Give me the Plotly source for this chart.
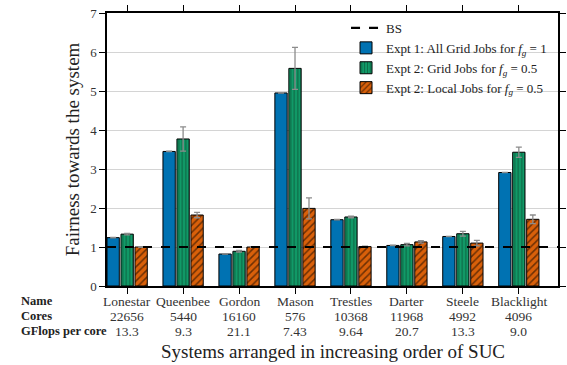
import plotly.graph_objects as go

# Systems, ordered by increasing SUC
systems = ["Lonestar", "Queenbee", "Gordon", "Mason", "Trestles", "Darter", "Steele", "Blacklight"]
cores = ["22656", "5440", "16160", "576", "10368", "11968", "4992", "4096"]
gflops = ["13.3", "9.3", "21.1", "7.43", "9.64", "20.7", "13.3", "9.0"]

# Fairness values and error bars
expt1_all = [1.24, 3.45, 0.82, 4.95, 1.70, 1.04, 1.27, 2.91]
expt1_err = [0.005, 0.005, 0.005, 0.005, 0.005, 0.005, 0.005, 0.005]
expt2_grid = [1.33, 3.77, 0.89, 5.58, 1.77, 1.06, 1.34, 3.43]
expt2_grid_err = [0.02, 0.31, 0.02, 0.54, 0.02, 0.03, 0.06, 0.13]
expt2_local = [1.00, 1.82, 1.00, 1.99, 1.01, 1.13, 1.10, 1.71]
expt2_local_err = [0.01, 0.07, 0.01, 0.27, 0.01, 0.03, 0.07, 0.11]
bs_level = 1.0

x_range = [-0.36, 7.7]
idx = list(range(len(systems)))

SERIF = "Liberation Serif, Times New Roman, serif"
ERR_COLOR = "#8c8c8c"
TXT = "#222"

def err(vals):
    return dict(type="data", array=vals, color=ERR_COLOR, thickness=1.3, width=3)

fig = go.Figure()

fig.add_trace(go.Bar(
    x=idx, y=expt1_all, error_y=err(expt1_err),
    name="Expt 1: All Grid Jobs for <i>f</i><sub><i>g</i></sub> = 1",
    marker=dict(color="#0072b2", line=dict(color="black", width=1)),
    legendrank=2,
))
fig.add_trace(go.Bar(
    x=idx, y=expt2_grid, error_y=err(expt2_grid_err),
    name="Expt 2: Grid Jobs for <i>f</i><sub><i>g</i></sub> = 0.5",
    marker=dict(color="#119a68", line=dict(color="black", width=1),
                pattern=dict(shape="|", fgcolor="#0b3d26", bgcolor="#119a68",
                             size=3.5, solidity=0.35)),
    legendrank=3,
))
fig.add_trace(go.Bar(
    x=idx, y=expt2_local, error_y=err(expt2_local_err),
    name="Expt 2: Local Jobs for <i>f</i><sub><i>g</i></sub> = 0.5",
    marker=dict(color="#d9600a", line=dict(color="black", width=1),
                pattern=dict(shape="/", fgcolor="black", bgcolor="#d9600a",
                             size=5, solidity=0.3)),
    legendrank=4,
))
fig.add_trace(go.Scatter(
    x=x_range, y=[bs_level, bs_level], mode="lines", name="BS",
    line=dict(color="black", width=2.2, dash="dash"),
    legendrank=1,
))

fig.update_layout(
    width=567, height=365,
    margin=dict(l=107, r=1, t=13, b=79),
    paper_bgcolor="white", plot_bgcolor="white",
    font=dict(family=SERIF, size=13, color=TXT),
    barmode="group", bargap=0.25, bargroupgap=0.12,
    showlegend=True,
    legend=dict(x=0.53, y=1.0, xanchor="left", yanchor="top",
                bgcolor="rgba(0,0,0,0)", font=dict(family=SERIF, size=13, color=TXT),
                tracegroupgap=0, itemwidth=30),
    xaxis=dict(range=x_range, tickmode="array", tickvals=idx, showticklabels=False,
               ticks="outside", ticklen=6, tickcolor="black", mirror="ticks",
               showline=True, linecolor="black", linewidth=1.5,
               showgrid=False, zeroline=False),
    yaxis=dict(range=[0, 7], tickvals=list(range(8)),
               ticks="outside", ticklen=6, tickcolor="black", mirror="ticks",
               showline=True, linecolor="black", linewidth=1.5,
               showgrid=True, gridcolor="#d4d4d4", gridwidth=1, zeroline=False,
               tickfont=dict(family=SERIF, size=13, color="#333"),
               title=dict(text="Fairness towards the system",
                          font=dict(family=SERIF, size=19, color=TXT), standoff=6)),
)

# System table under the axis: name, core count and GFlops per core
row_y = [-0.055, -0.11, -0.165]
for i in idx:
    for vals, yy in zip([systems, cores, gflops], row_y):
        fig.add_annotation(text=vals[i], x=i, xref="x", yref="paper", y=yy,
                           yanchor="middle", showarrow=False,
                           font=dict(family=SERIF, size=13.5, color="#333"))

for label, yy in zip(["Name", "Cores", "GFlops per core"], row_y):
    fig.add_annotation(text=f"<b>{label}</b>", xref="paper", yref="paper",
                       x=-0.196, y=yy, xanchor="left", yanchor="middle",
                       showarrow=False, font=dict(family=SERIF, size=12.5, color=TXT))

fig.add_annotation(text="Systems arranged in increasing order of SUC",
                   xref="paper", yref="paper", x=0.5, y=-0.24,
                   xanchor="center", yanchor="middle", showarrow=False,
                   font=dict(family=SERIF, size=19, color=TXT))

fig.write_html("out.html")
